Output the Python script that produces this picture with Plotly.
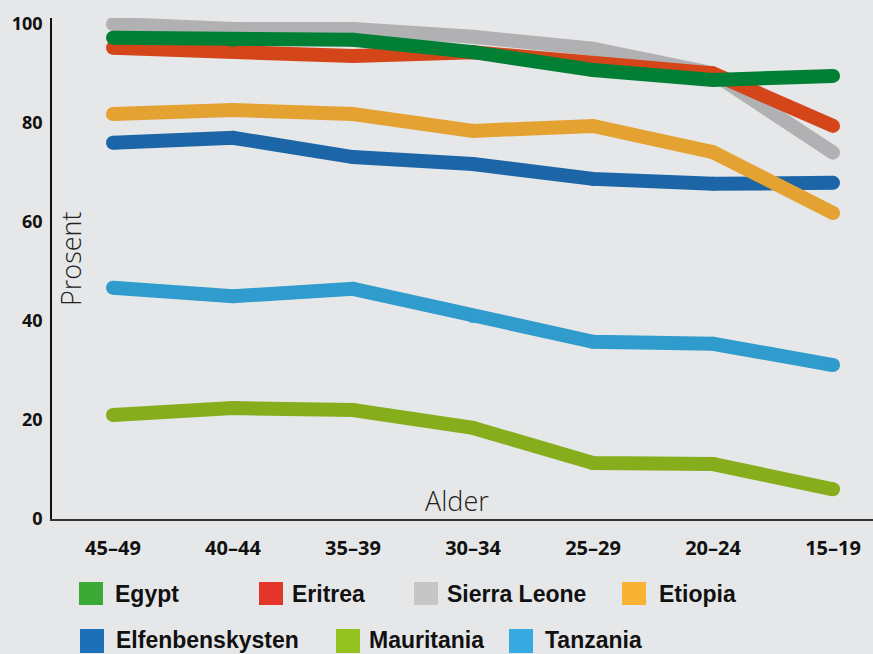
import plotly.graph_objects as go

ages = ["45–49", "40–44", "35–39", "30–34", "25–29", "20–24", "15–19"]

egypt = [97.2, 96.8, 96.8, 94.3, 90.7, 88.7, 89.5]
eritrea = [95.2, 94.7, 93.5, 94.3, 92.0, 90.0, 79.4]
sierra_leone = [100.0, 99.0, 99.0, 97.4, 95.0, 90.0, 74.0]
etiopia = [81.8, 82.6, 81.8, 78.4, 79.4, 74.1, 61.8]
elfenbenskysten = [76.0, 77.0, 73.1, 71.7, 68.7, 67.7, 67.9]
mauritania = [21.0, 22.4, 22.0, 18.4, 11.3, 11.1, 6.0]
tanzania = [46.7, 45.0, 46.5, 41.0, 35.8, 35.4, 31.1]

y_ticks = [0, 20, 40, 60, 80, 100]

# name, values, line colour, legend colour
series = [
    ("Tanzania", tanzania, "#2f9ccd", "#36a9e1"),
    ("Mauritania", mauritania, "#86ae1c", "#95c11f"),
    ("Elfenbenskysten", elfenbenskysten, "#1c66a8", "#1d70b7"),
    ("Etiopia", etiopia, "#e3a232", "#f9b233"),
    ("Sierra Leone", sierra_leone, "#b1b1b3", "#c6c6c6"),
    ("Eritrea", eritrea, "#d4461a", "#e5352b"),
    ("Egypt", egypt, "#007f35", "#3aaa35"),
]

W, H = 873, 654
L, R, T, B = 52, 0, 18, 135
pw, ph = W - L - R, H - T - B


def px(x):
    return (x - L) / pw


def py(y):
    return (H - B - y) / ph


fig = go.Figure()
for name, vals, col, _ in series:
    fig.add_trace(go.Scatter(
        x=ages, y=vals, name=name, mode="lines+markers",
        line=dict(color=col, width=14),
        marker=dict(color=col, size=14, line=dict(width=0)),
        showlegend=False, hoverinfo="x+y+name",
    ))

legend_colors = {n: lc for n, _, _, lc in series}
# legend items: name, square left px, text left px, row
legend_items = [
    ("Egypt", 79, 113, 0),
    ("Eritrea", 259, 290, 0),
    ("Sierra Leone", 414, 445, 0),
    ("Etiopia", 622, 657, 0),
    ("Elfenbenskysten", 80, 114, 1),
    ("Mauritania", 336, 367, 1),
    ("Tanzania", 509, 543, 1),
]
row_sq = [(582, 605), (629, 653)]
row_txt = [594, 640]

shapes = []
annotations = []
for name, sx, tx, row in legend_items:
    y0, y1 = row_sq[row]
    shapes.append(dict(type="rect", xref="paper", yref="paper",
                       x0=px(sx), x1=px(sx + 24), y0=py(y1), y1=py(y0),
                       fillcolor=legend_colors[name], line=dict(width=0)))
    annotations.append(dict(text=name, xref="paper", yref="paper",
                            x=px(tx), y=py(row_txt[row]), xanchor="left", yanchor="middle",
                            showarrow=False,
                            font=dict(family="Liberation Sans", size=23, color="#111111", weight="bold")))

annotations.append(dict(text="Prosent", xref="paper", yref="paper",
                        x=px(70), y=py(259), xanchor="center", yanchor="middle",
                        textangle=-90, showarrow=False,
                        font=dict(family="Open Sans", size=27, color="#222222", weight=300)))
annotations.append(dict(text="Alder", xref="paper", yref="paper",
                        x=px(457), y=py(500), xanchor="center", yanchor="middle",
                        showarrow=False,
                        font=dict(family="Open Sans", size=27, color="#222222", weight=300)))

fig.update_layout(
    width=W, height=H,
    margin=dict(l=L, r=R, t=T, b=B),
    paper_bgcolor="#e6e7e8", plot_bgcolor="#e6e7e8",
    shapes=shapes, annotations=annotations,
    showlegend=False,
)
fig.update_xaxes(
    type="category", range=[-0.508, 6.333],
    showgrid=False, zeroline=False, showline=True, linecolor="#333333", linewidth=1.5,
    ticks="", ticklabelstandoff=10,
    tickfont=dict(family="Open Sans", size=20, color="#111111", weight="bold"),
)
fig.update_yaxes(
    range=[0, 101.2], tickvals=y_ticks,
    showgrid=False, zeroline=False, showline=True, linecolor="#111111", linewidth=1.5,
    ticks="", ticklabelstandoff=4,
    tickfont=dict(family="Open Sans", size=18, color="#111111", weight="bold"),
)

fig.write_html(
    "out.html",
    config={"displayModeBar": False},
    post_script="document.body.style.margin='0';document.body.style.padding='0';"
                "document.body.style.overflow='hidden';"
                "document.body.style.background='#e6e7e8';",
)
